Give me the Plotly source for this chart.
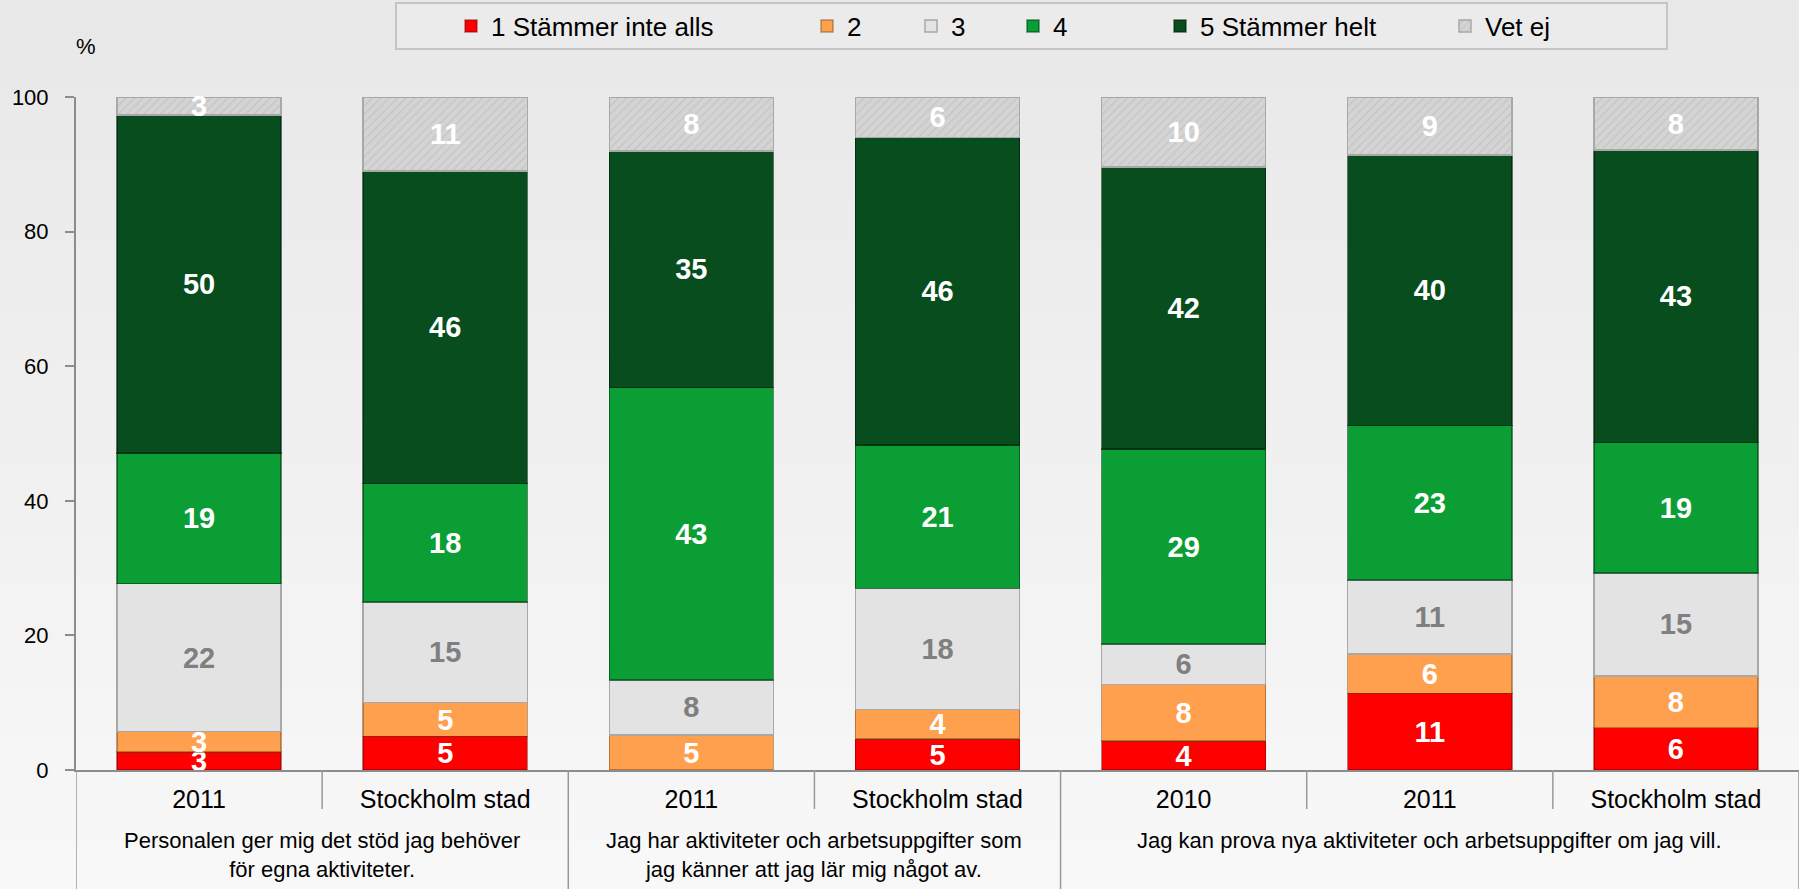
import plotly.graph_objects as go

# categories
bar_labels = ["2011", "Stockholm stad", "2011", "Stockholm stad", "2010", "2011", "Stockholm stad"]
group_of_bar = [0, 0, 1, 1, 2, 2, 2]
groups = ["Personalen ger mig det stöd jag behöver<br>för egna aktiviteter.",
          "Jag har aktiviteter och arbetsuppgifter som<br>jag känner att jag lär mig något av.",
          "Jag kan prova nya aktiviteter och arbetsuppgifter om jag vill."]

# series (percent)
series_names = ["1 Stämmer inte alls", "2", "3", "4", "5 Stämmer helt", "Vet ej"]
s1 = [2.7, 5.0, 0.0, 4.6, 4.3, 11.4, 6.3]
s2 = [3.0, 5.0, 5.2, 4.4, 8.4, 5.8, 7.7]
s3 = [22.0, 15.0, 8.2, 18.0, 6.0, 11.0, 15.3]
s4 = [19.4, 17.6, 43.4, 21.3, 29.0, 23.0, 19.4]
s5 = [50.2, 46.4, 35.2, 45.7, 41.9, 40.2, 43.4]
s6 = [2.7, 11.0, 8.0, 6.0, 10.4, 8.6, 7.9]
all_series = [s1, s2, s3, s4, s5, s6]

colors = ["#ff0000", "#ffa04e", "#e3e3e3", "#0b9e35", "#074d1e", "#cfcfcf"]
text_colors = ["white", "white", "#7f7f7f", "white", "white", "white"]
line_colors = ["rgba(120,0,0,0.5)", "rgba(120,70,20,0.5)", "#a8a8a8",
               "rgba(0,60,20,0.6)", "rgba(0,30,10,0.6)", "#a8a8a8"]

FONT = "Liberation Sans, Arial, sans-serif"

# pixel helpers for layout placement
L, T, W, H = 76, 97, 1723, 673
def px_x(p):
    return (p - L) / W
def px_y(p):
    return 1 + (T - p) / H

fig = go.Figure()
xs = list(range(len(bar_labels)))
legend_text_x = [493, 849, 953, 1055, 1202, 1487]

for i, (name, vals) in enumerate(zip(series_names, all_series)):
    leg = "legend" if i == 0 else "legend%d" % (i + 1)
    marker = dict(color=colors[i], line=dict(color=line_colors[i], width=1.5))
    if name == "Vet ej":
        marker["pattern"] = dict(shape="/", fgcolor="#b8b8b8", bgcolor="#d4d4d4",
                                 size=6, solidity=0.25)
    fig.add_trace(go.Bar(
        x=xs, y=vals, name=name, legend=leg, showlegend=True,
        marker=marker,
        text=["%.0f" % v if v > 0 else "" for v in vals],
        textposition="inside", insidetextanchor="middle", textangle=0,
        insidetextfont=dict(color=text_colors[i], size=29, family=FONT, weight="bold"),
        cliponaxis=False,
    ))

layout_legends = {}
for i in range(len(series_names)):
    key = "legend" if i == 0 else "legend%d" % (i + 1)
    layout_legends[key] = dict(
        orientation="h", x=px_x(legend_text_x[i] - 42), xanchor="left",
        y=px_y(26), yanchor="middle", bgcolor="rgba(0,0,0,0)", borderwidth=0,
        font=dict(size=26, color="black", family=FONT),
    )

shapes = []
# background gradient
n = 40
y_bot, y_top = px_y(889), px_y(0)
for k in range(n):
    t = k / (n - 1)
    c = int(round(0xf8 + (0xe8 - 0xf8) * t))
    shapes.append(dict(type="rect", xref="paper", yref="paper", layer="below",
                       x0=0 - L / W, x1=1, y0=y_bot + (y_top - y_bot) * k / n,
                       y1=y_bot + (y_top - y_bot) * (k + 1) / n + 0.002,
                       fillcolor="rgb(%d,%d,%d)" % (c, c, c), line=dict(width=0)))
# legend box
shapes.append(dict(type="rect", xref="paper", yref="paper", layer="below",
                   x0=px_x(396), x1=px_x(1667), y0=px_y(49), y1=px_y(3),
                   fillcolor="#ebebeb", line=dict(color="#c4c4c4", width=2)))
# separators in the category table
for b in range(-1, len(bar_labels)):
    left = group_of_bar[b] if b >= 0 else None
    right = group_of_bar[b + 1] if b + 1 < len(bar_labels) else None
    y1 = px_y(809) if left == right else px_y(889)
    shapes.append(dict(type="line", xref="x", yref="paper", x0=b + 0.5, x1=b + 0.5,
                       y0=0, y1=y1, line=dict(color="#999999", width=1.5)))

annotations = [dict(text="%", xref="paper", yref="paper", x=px_x(86), y=px_y(46),
                    xanchor="center", yanchor="middle",
                    showarrow=False, font=dict(size=22, family=FONT, color="black"))]
for g, label in enumerate(groups):
    members = [i for i, gg in enumerate(group_of_bar) if gg == g]
    annotations.append(dict(text=label, xref="x", yref="paper",
                            x=sum(members) / len(members), y=px_y(826),
                            xanchor="center", yanchor="top", showarrow=False,
                            align="center",
                            font=dict(size=22, family=FONT, color="black")))

fig.update_layout(
    width=1799, height=889,
    barmode="stack", bargap=0.333,
    margin=dict(l=L, r=0, t=T, b=889 - T - H),
    paper_bgcolor="#f0f0f0", plot_bgcolor="rgba(0,0,0,0)",
    font=dict(family=FONT, color="black"),
    uniformtext=dict(minsize=29, mode="show"),
    showlegend=True,
    shapes=shapes, annotations=annotations,
    **layout_legends,
)
fig.update_xaxes(range=[-0.5, 6.5], tickvals=xs, ticktext=bar_labels,
                 showline=True, linecolor="#8c8c8c", linewidth=2, ticks="",
                 showgrid=False, zeroline=False, ticklabelstandoff=6,
                 tickfont=dict(size=25, family=FONT, color="black"))
fig.update_yaxes(range=[0, 100], tick0=0, dtick=20, ticks="outside", ticklen=9,
                 tickcolor="#8c8c8c", tickwidth=2, showline=True, linecolor="#8c8c8c",
                 linewidth=2, showgrid=False, zeroline=False, ticklabelstandoff=12,
                 tickfont=dict(size=22, family=FONT, color="black"))

fig.write_html("out.html", config={"displayModeBar": False},
               post_script="document.body.style.margin='0';")
